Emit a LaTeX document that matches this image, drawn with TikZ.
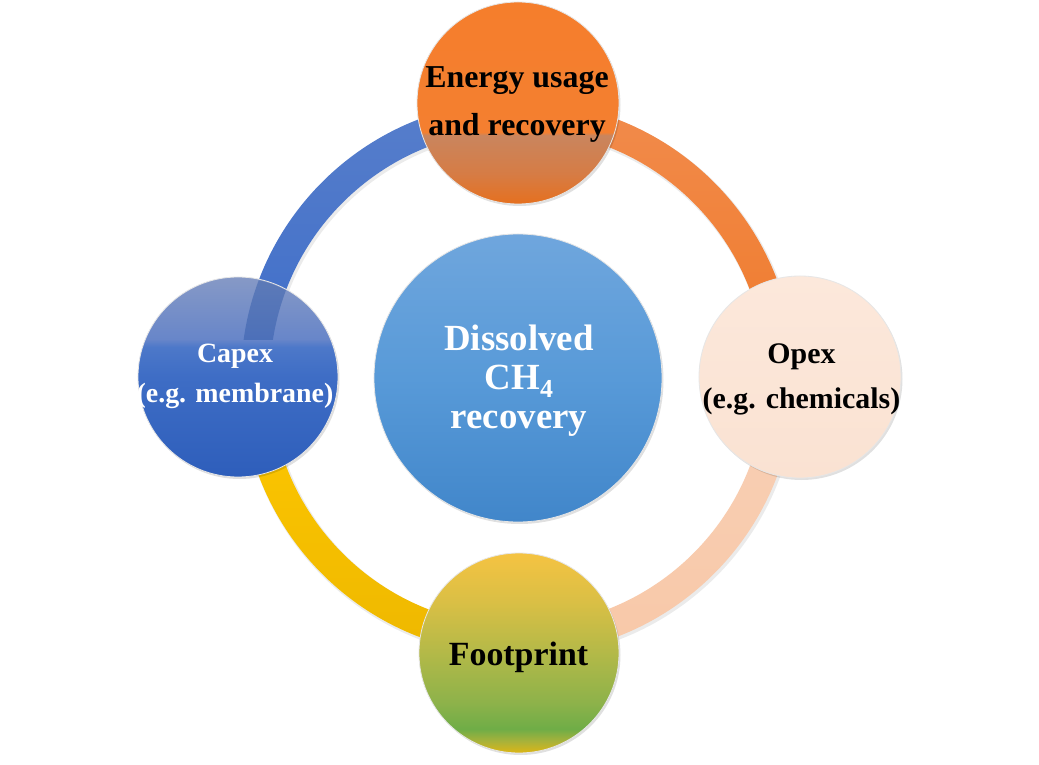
\documentclass[tikz,border=0pt]{standalone}
\usepackage{fontspec}
\setmainfont{Liberation Serif}
\usetikzlibrary{shadows}

% ring colours
\definecolor{blueArcTop}{HTML}{577ECB}
\definecolor{blueArcBot}{HTML}{3D6DC9}
\definecolor{orangeArcTop}{HTML}{F18B4C}
\definecolor{orangeArcBot}{HTML}{F07A2A}
\definecolor{peachArcTop}{HTML}{F8D0B6}
\definecolor{peachArcBot}{HTML}{F8C8A8}
\definecolor{yellowArcTop}{HTML}{FFC800}
\definecolor{yellowArcBot}{HTML}{EEB800}
\definecolor{capexArcOver}{HTML}{2C56A6}
% ball colours
\definecolor{oTop}{HTML}{F57E2C}
\definecolor{oEdge}{HTML}{F47F30}
\definecolor{oBandA}{HTML}{C9855E}
\definecolor{oBandB}{HTML}{D67C45}
\definecolor{oBot}{HTML}{E5701F}
\definecolor{cTop}{HTML}{8699C6}
\definecolor{cGlossA}{HTML}{6886C9}
\definecolor{cGlossB}{HTML}{4D78C9}
\definecolor{cMid}{HTML}{3E6DC5}
\definecolor{cBot}{HTML}{2E5EBB}
\definecolor{pTop}{HTML}{FCE8DB}
\definecolor{pBot}{HTML}{FAE2D2}
\definecolor{fA}{HTML}{F5C342}
\definecolor{fB}{HTML}{D9BF45}
\definecolor{fC}{HTML}{B3B948}
\definecolor{fD}{HTML}{8DB24A}
\definecolor{fE}{HTML}{6FAD47}
\definecolor{fF}{HTML}{A8B23A}
\definecolor{fG}{HTML}{DDB615}
\definecolor{mTop}{HTML}{6FA6DD}
\definecolor{mMid}{HTML}{589AD8}
\definecolor{mBot}{HTML}{4186CA}
\definecolor{rim}{HTML}{E6E6E6}

\pgfdeclareverticalshading{orangeball}{100bp}{color(0bp)=(oBot); color(25bp)=(oBot); color(32.5bp)=(oBandB); color(42bp)=(oBandA); color(42.8bp)=(oEdge); color(75bp)=(oTop); color(100bp)=(oTop)}
\pgfdeclareverticalshading{capexball}{100bp}{color(0bp)=(cBot); color(25bp)=(cBot); color(50bp)=(cMid); color(57.5bp)=(cGlossB); color(59.5bp)=(cGlossA); color(75bp)=(cTop); color(100bp)=(cTop)}
\pgfdeclareverticalshading{opexball}{100bp}{color(0bp)=(pBot); color(25bp)=(pBot); color(75bp)=(pTop); color(100bp)=(pTop)}
\pgfdeclareverticalshading{football}{100bp}{color(0bp)=(fG); color(25bp)=(fG); color(28bp)=(fF); color(31bp)=(fE); color(37.5bp)=(fD); color(50bp)=(fC); color(62.5bp)=(fB); color(75bp)=(fA); color(100bp)=(fA)}
\pgfdeclareverticalshading{centerball}{100bp}{color(0bp)=(mBot); color(25bp)=(mBot); color(50bp)=(mMid); color(75bp)=(mTop); color(100bp)=(mTop)}

\newcommand\ringseg[2]{(#1:277bp) arc[start angle=#1,end angle=#2,radius=277bp] -- (#2:248bp) arc[start angle=#2,end angle=#1,radius=248bp] -- cycle}

\tikzset{
  ball/.style={circle, inner sep=0pt, shade, draw=rim, line width=0.8bp,
    drop shadow={shadow xshift=1.5bp, shadow yshift=-2bp, opacity=0.12, fill=black}},
  lbl/.style={align=center, inner sep=0pt},
  darklbl/.style={lbl, text=black},
  lightlbl/.style={lbl, text=white}
}

\begin{document}
\begin{tikzpicture}[x=1bp,y=1bp]
\useasboundingbox (-518,-387) rectangle (521,378);
\fill[white] (-518,-387) rectangle (521,378);

% ring shadow
\fill[black, opacity=0.08, even odd rule] (1.5,-2) circle (278bp) (1.5,-2) circle (247bp);

% ring segments
\shade[top color=blueArcTop, bottom color=blueArcBot] \ringseg{90}{180};
\shade[top color=orangeArcTop, bottom color=orangeArcBot] \ringseg{0}{90};
\shade[top color=peachArcTop, bottom color=peachArcBot] \ringseg{270}{360};
\shade[top color=yellowArcTop, bottom color=yellowArcBot] \ringseg{180}{270};

% circles
\node[ball, minimum size=202bp, shading=orangeball] (energy) at (0,275) {};
\node[ball, minimum size=200bp, shading=capexball] (capex) at (-280,1) {};
\node[ball, minimum size=202bp, shading=opexball] (opex) at (282,1) {};
\node[ball, minimum size=200bp, shading=football] (foot) at (1,-275) {};
\node[ball, minimum size=288bp, shading=centerball] (core) at (0,0) {};

% arc seen through the glossy top of the Capex circle
\begin{scope}
  \clip (capex.center) circle (99bp);
  \clip (-400,38) rectangle (-150,120);
  \fill[capexArcOver, opacity=0.45] \ringseg{90}{180};
\end{scope}

% texts
\node[darklbl, font=\fontsize{32}{49}\selectfont\bfseries] (energyText) at (-1,273.5) {Energy usage\\and recovery};
\node[lightlbl, font=\fontsize{28}{41}\selectfont\bfseries] (capexText) at (-283,1.7) {Capex\\(e.g. membrane)};
\node[darklbl, font=\fontsize{30}{45}\selectfont\bfseries] (opexText) at (283.5,-1) {Opex\\(e.g. chemicals)};
\node[darklbl, font=\fontsize{34}{40}\selectfont\bfseries] (footText) at (0.5,-279.5) {Footprint};
\node[lightlbl, font=\fontsize{37}{39}\selectfont\bfseries] (coreText) at (1,-3) {Dissolved\\CH\raisebox{-8pt}{\fontsize{26}{26}\selectfont 4}\\recovery};
\end{tikzpicture}
\end{document}
